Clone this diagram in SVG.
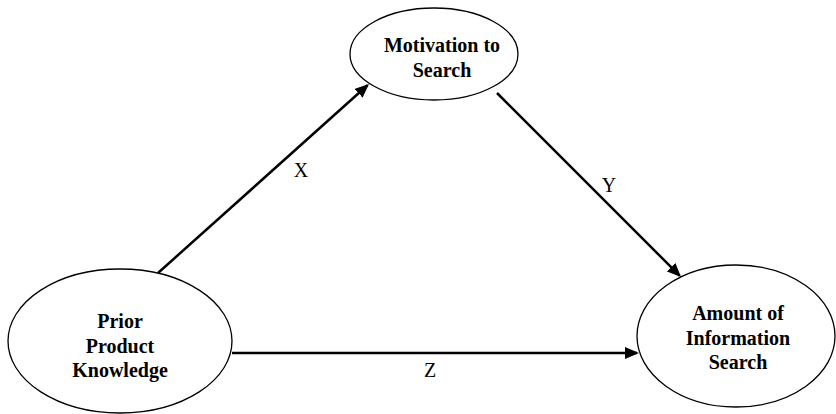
<svg xmlns="http://www.w3.org/2000/svg" width="836" height="414" viewBox="0 0 836 414">
<style>
.node{fill:#fff;stroke:#000;stroke-width:1.3}
.t{font-family:"Liberation Serif","Times New Roman",serif;font-size:20px;font-weight:bold;text-anchor:middle;fill:#000}
.l{font-family:"Liberation Serif","Times New Roman",serif;font-size:20px;text-anchor:middle;fill:#000}
.c{stroke:#000;stroke-width:2.5;fill:none;marker-end:url(#ah)}
</style>
<defs>
<marker id="ah" viewBox="0 0 14 12" refX="12" refY="6" markerWidth="14" markerHeight="12" markerUnits="userSpaceOnUse" orient="auto">
<path d="M0,0 L14,6 L0,12 z" fill="#000"/>
</marker>
</defs>
<rect width="836" height="414" fill="#fff"/>
<g id="motivation">
<ellipse class="node" cx="434" cy="54" rx="84" ry="46"/>
<text class="t" x="442" y="52">Motivation to</text>
<text class="t" x="442" y="77">Search</text>
</g>
<g id="prior">
<ellipse class="node" cx="120" cy="341" rx="112" ry="72"/>
<text class="t" x="120" y="328">Prior</text>
<text class="t" x="120" y="353">Product</text>
<text class="t" x="120" y="377">Knowledge</text>
</g>
<g id="amount">
<ellipse class="node" cx="736" cy="336" rx="99" ry="71"/>
<text class="t" x="738" y="320">Amount of</text>
<text class="t" x="738" y="345">Information</text>
<text class="t" x="738" y="369">Search</text>
</g>
<g id="connectors">
<line class="c" x1="158" y1="273" x2="367.5" y2="85.3"/>
<line class="c" x1="497" y1="93" x2="679.6" y2="275.6"/>
<line class="c" x1="232" y1="353" x2="637" y2="353"/>
<text class="l" x="301" y="177">X</text>
<text class="l" x="609" y="192">Y</text>
<text class="l" x="430" y="377">Z</text>
</g>
</svg>
